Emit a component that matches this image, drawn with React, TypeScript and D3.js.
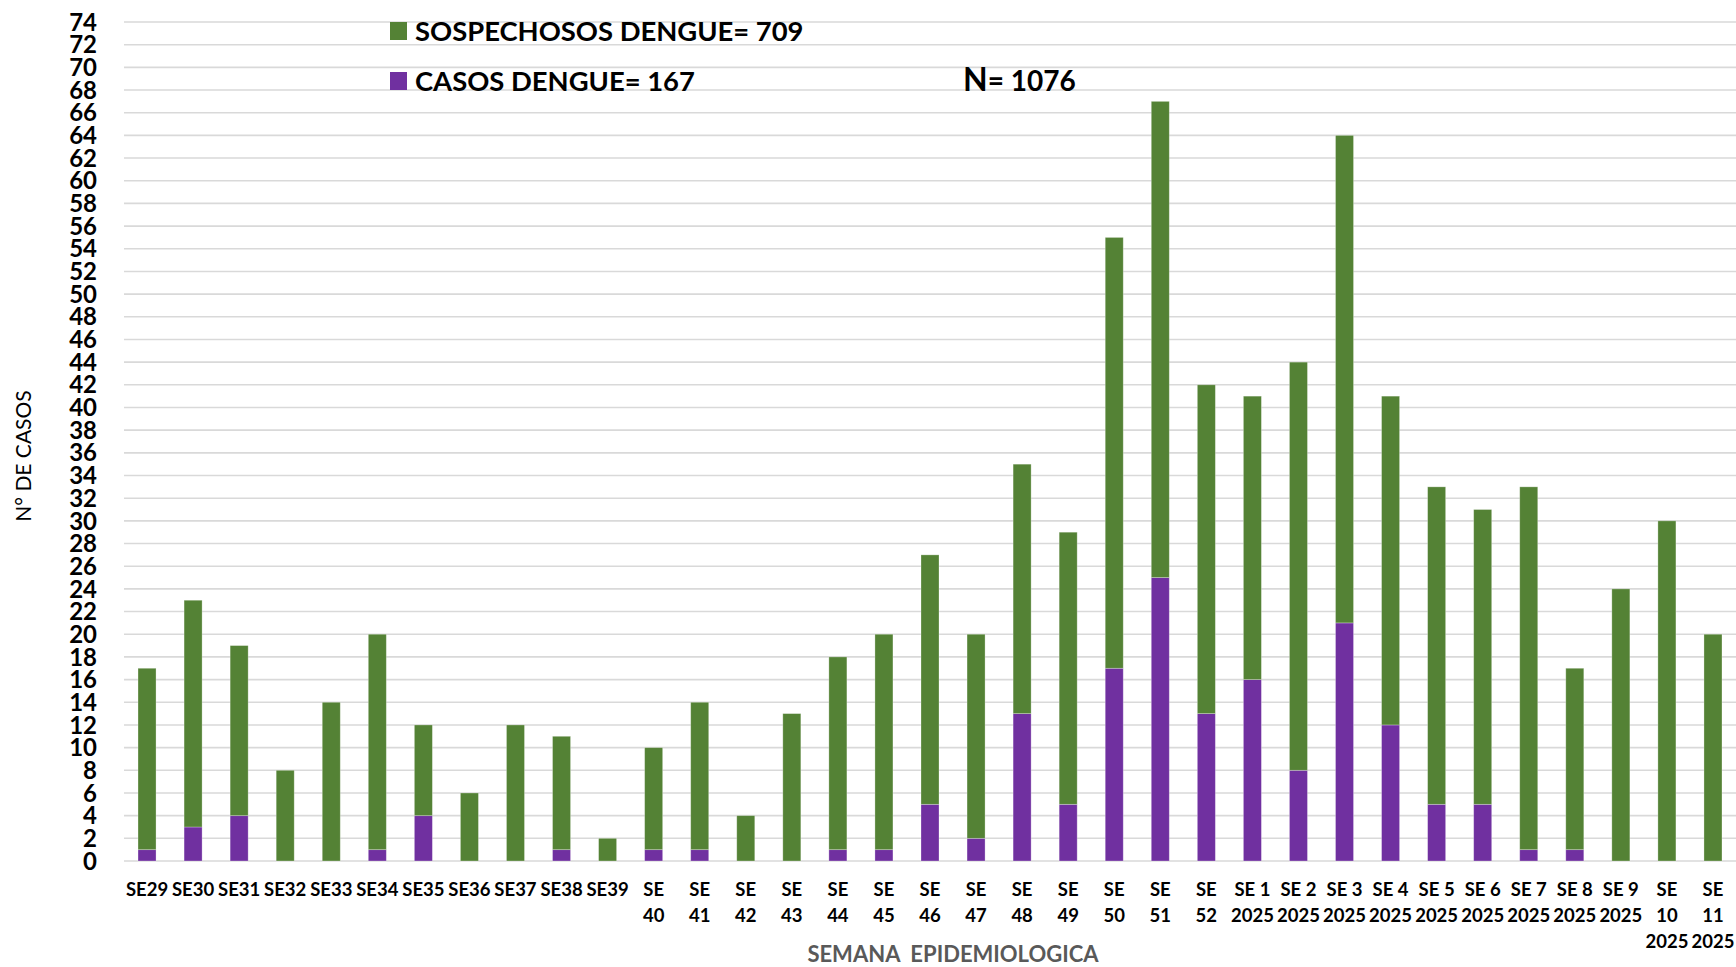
import React from "react";
import * as d3 from "d3";

const categories: string[] = [
  "SE29", "SE30", "SE31", "SE32", "SE33", "SE34", "SE35", "SE36", "SE37", "SE38", "SE39",
  "SE\n40", "SE\n41", "SE\n42", "SE\n43", "SE\n44", "SE\n45", "SE\n46", "SE\n47", "SE\n48", "SE\n49",
  "SE\n50", "SE\n51", "SE\n52",
  "SE 1\n2025", "SE 2\n2025", "SE 3\n2025", "SE 4\n2025", "SE 5\n2025", "SE 6\n2025",
  "SE 7\n2025", "SE 8\n2025", "SE 9\n2025", "SE\n10\n2025", "SE\n11\n2025",
];

// CASOS DENGUE (purple, bottom segment)
const casos: number[] = [
  1, 3, 4, 0, 0, 1, 4, 0, 0, 1, 0,
  1, 1, 0, 0, 1, 1, 5, 2, 13, 5,
  17, 25, 13,
  16, 8, 21, 12, 5, 5, 1, 1, 0, 0, 0,
];

// SOSPECHOSOS DENGUE (green, stacked on top)
const sospechosos: number[] = [
  16, 20, 15, 8, 14, 19, 8, 6, 12, 10, 2,
  9, 13, 4, 13, 17, 19, 22, 18, 22, 24,
  38, 42, 29,
  25, 36, 43, 29, 28, 26, 32, 16, 24, 30, 20,
];

const yTicks: number[] = d3.range(0, 75, 2);

const legendLabels: string[] = ["SOSPECHOSOS DENGUE= 709", "CASOS DENGUE= 167"];
const totalLabel = "1076";

const GREEN = "#548235";
const PURPLE = "#7030A0";
const FONT = "Lato, 'Open Sans', sans-serif";

export default function App() {
  const W = 1736;
  const H = 967;
  const left = 124;
  const right = 1736;
  const top = 22;
  const bottom = 861;

  const x = d3
    .scaleBand<string>()
    .domain(categories)
    .range([left, right])
    .paddingInner(0.609)
    .paddingOuter(0.3045);
  const y = d3.scaleLinear().domain([0, 74]).range([bottom, top]);

  const rows = categories.map((c, i) => ({ cat: c, casos: casos[i], sosp: sospechosos[i] }));
  const stack = d3.stack<any>().keys(["casos", "sosp"]);
  const series = stack(rows as any);
  const colors = [PURPLE, GREEN];

  return (
    <svg
      width={W}
      height={H}
      style={{ position: "absolute", left: 0, top: 0, background: "#fff" }}
      fontFamily={FONT}
    >
      {/* gridlines */}
      {yTicks.map((t) => (
        <line
          key={"g" + t}
          x1={left}
          x2={right}
          y1={y(t)}
          y2={y(t)}
          stroke="#d9d9d9"
          strokeWidth={1.6}
        />
      ))}
      {/* y tick labels */}
      {yTicks.map((t) => (
        <text
          key={"yt" + t}
          x={97}
          y={y(t)}
          dy="0.36em"
          textAnchor="end"
          fontSize={24}
          fontWeight="bold"
          fill="#000"
        >
          {t}
        </text>
      ))}
      {/* bars */}
      {series.map((s, si) =>
        s.map((d, i) => {
          const h = y(d[0]) - y(d[1]);
          if (h <= 0) return null;
          return (
            <rect
              key={`b${si}-${i}`}
              x={x(categories[i])}
              y={y(d[1])}
              width={x.bandwidth()}
              height={h}
              fill={colors[si]}
              stroke="#ffffff"
              strokeOpacity={0.35}
              strokeWidth={0.8}
            />
          );
        })
      )}
      {/* x tick labels */}
      {categories.map((c) => {
        const cx = (x(c) as number) + x.bandwidth() / 2;
        return (
          <text
            key={"xt" + c}
            textAnchor="middle"
            fontSize={18.5}
            fontWeight="bold"
            fill="#000"
          >
            {c.split("\n").map((ln, li) => (
              <tspan key={li} x={cx} y={896 + li * 26}>
                {ln}
              </tspan>
            ))}
          </text>
        );
      })}
      {/* y axis title */}
      <text
        transform={`translate(31,456) rotate(-90)`}
        textAnchor="middle"
        fontSize={21}
        fill="#000"
      >
        N° DE CASOS
      </text>
      {/* x axis title */}
      <text
        x={953}
        y={962}
        textAnchor="middle"
        fontSize={22}
        fontWeight="bold"
        fill="#595959"
        style={{ whiteSpace: "pre" }}
      >
        {"SEMANA  EPIDEMIOLOGICA"}
      </text>
      {/* legend */}
      <rect x={390} y={22} width={17} height={18} fill={GREEN} />
      <text x={415} y={41} fontSize={27.4} fontWeight="bold" fill="#000">
        {legendLabels[0]}
      </text>
      <rect x={390} y={72} width={17} height={18} fill={PURPLE} />
      <text x={415} y={91} fontSize={27.4} fontWeight="bold" fill="#000">
        {legendLabels[1]}
      </text>
      <text x={963} y={91} fontWeight="bold" fill="#000">
        <tspan fontSize={32}>N</tspan>
        <tspan fontSize={28}>= {totalLabel}</tspan>
      </text>
    </svg>
  );
}
